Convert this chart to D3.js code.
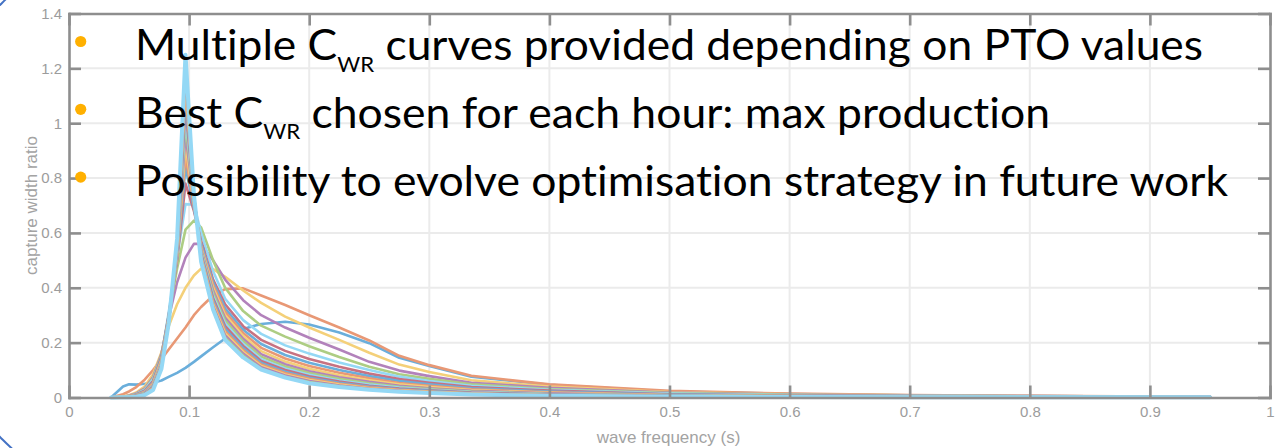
<!DOCTYPE html>
<html>
<head>
<meta charset="utf-8">
<script src="https://cdn.jsdelivr.net/npm/d3@7"></script>
<style>
  html, body { margin: 0; padding: 0; background: #fff; overflow: hidden; }
  svg { display: block; }
</style>
</head>
<body>
<svg id="chart" width="1276" height="448"></svg>
<script>
// Wave frequency samples shared by every capture-width-ratio curve
const freq = [0.035, 0.045, 0.05, 0.056, 0.063, 0.07, 0.077, 0.083, 0.09, 0.097, 0.104, 0.11, 0.12, 0.13, 0.145,
              0.16, 0.18, 0.2, 0.225, 0.25, 0.275, 0.3, 0.335, 0.4, 0.5, 0.6, 0.7, 0.8, 0.95];

// One capture width ratio curve per PTO setting
const cwr01 = [0, 0.04, 0.048, 0.047, 0.05, 0.054, 0.062, 0.075, 0.09, 0.108, 0.13, 0.15, 0.183, 0.215, 0.25, 0.268, 0.276, 0.266, 0.237, 0.198, 0.145, 0.115, 0.076, 0.046, 0.022, 0.013, 0.008, 0.005, 0.003];
const cwr02 = [0, 0.012, 0.022, 0.038, 0.065, 0.1, 0.14, 0.175, 0.215, 0.255, 0.3, 0.33, 0.372, 0.395, 0.398, 0.372, 0.337, 0.3, 0.255, 0.208, 0.152, 0.118, 0.079, 0.048, 0.024, 0.014, 0.009, 0.006, 0.003];
const cwr03 = [0, 0.004, 0.008, 0.018, 0.04, 0.085, 0.165, 0.26, 0.34, 0.4, 0.445, 0.47, 0.468, 0.44, 0.39, 0.345, 0.295, 0.255, 0.21, 0.163, 0.12, 0.093, 0.063, 0.04, 0.02, 0.012, 0.008, 0.005, 0.003];
const cwr04 = [0, 0.003, 0.007, 0.015, 0.033, 0.075, 0.16, 0.29, 0.42, 0.51, 0.56, 0.56, 0.5, 0.43, 0.355, 0.3, 0.255, 0.218, 0.175, 0.13, 0.098, 0.078, 0.054, 0.035, 0.018, 0.011, 0.007, 0.005, 0.003];
const cwr05 = [0, 0.003, 0.006, 0.013, 0.03, 0.07, 0.155, 0.3, 0.47, 0.612, 0.645, 0.62, 0.5, 0.4, 0.315, 0.262, 0.222, 0.187, 0.148, 0.112, 0.085, 0.068, 0.048, 0.031, 0.016, 0.01, 0.006, 0.004, 0.002];
const cwr06 = [0, 0.002, 0.005, 0.012, 0.028, 0.066, 0.15, 0.31, 0.51, 0.705, 0.703, 0.6, 0.46, 0.36, 0.282, 0.232, 0.19, 0.16, 0.128, 0.1, 0.076, 0.06, 0.043, 0.028, 0.014, 0.009, 0.006, 0.004, 0.002];
const cwr07 = [0, 0.002, 0.005, 0.011, 0.025, 0.06, 0.15, 0.3, 0.5, 0.78, 0.68, 0.57, 0.43, 0.34, 0.26, 0.21, 0.17, 0.14, 0.112, 0.087, 0.067, 0.054, 0.038, 0.025, 0.012, 0.007, 0.005, 0.003, 0.002];
const cwr08 = [0, 0.002, 0.004, 0.01, 0.023, 0.055, 0.145, 0.295, 0.51, 0.84, 0.69, 0.56, 0.42, 0.325, 0.247, 0.195, 0.155, 0.127, 0.1, 0.078, 0.06, 0.048, 0.034, 0.022, 0.011, 0.006, 0.004, 0.003, 0.002];
const cwr09 = [0, 0.002, 0.004, 0.009, 0.021, 0.052, 0.14, 0.29, 0.515, 0.88, 0.7, 0.55, 0.41, 0.312, 0.235, 0.181, 0.142, 0.115, 0.09, 0.07, 0.053, 0.043, 0.03, 0.019, 0.009, 0.005, 0.004, 0.002, 0.002];
const cwr10 = [0, 0.002, 0.004, 0.008, 0.019, 0.049, 0.135, 0.287, 0.52, 0.92, 0.71, 0.545, 0.4, 0.3, 0.224, 0.169, 0.131, 0.105, 0.081, 0.063, 0.048, 0.038, 0.027, 0.017, 0.008, 0.005, 0.003, 0.002, 0.001];
const cwr11 = [0, 0.001, 0.003, 0.008, 0.018, 0.046, 0.13, 0.284, 0.525, 0.96, 0.715, 0.54, 0.39, 0.29, 0.214, 0.158, 0.121, 0.096, 0.074, 0.057, 0.043, 0.034, 0.024, 0.015, 0.007, 0.004, 0.003, 0.002, 0.001];
const cwr12 = [0, 0.001, 0.003, 0.007, 0.016, 0.043, 0.126, 0.281, 0.53, 1.0, 0.72, 0.535, 0.38, 0.28, 0.205, 0.149, 0.113, 0.089, 0.068, 0.052, 0.039, 0.031, 0.022, 0.013, 0.007, 0.004, 0.003, 0.002, 0.001];
const cwr13 = [0, 0.001, 0.003, 0.006, 0.015, 0.041, 0.122, 0.279, 0.535, 1.03, 0.725, 0.53, 0.37, 0.27, 0.196, 0.14, 0.106, 0.083, 0.062, 0.047, 0.036, 0.028, 0.02, 0.012, 0.006, 0.004, 0.002, 0.002, 0.001];
const cwr14 = [0, 0.001, 0.002, 0.006, 0.014, 0.039, 0.119, 0.277, 0.54, 1.06, 0.73, 0.525, 0.362, 0.26, 0.188, 0.133, 0.1, 0.077, 0.058, 0.043, 0.033, 0.026, 0.018, 0.011, 0.005, 0.003, 0.002, 0.001, 0.001];
const cwr15 = [0, 0.001, 0.002, 0.005, 0.013, 0.037, 0.116, 0.275, 0.545, 1.09, 0.732, 0.52, 0.354, 0.25, 0.18, 0.126, 0.094, 0.072, 0.054, 0.04, 0.03, 0.024, 0.016, 0.01, 0.005, 0.003, 0.002, 0.001, 0.001];
const cwr16 = [0, 0.001, 0.002, 0.005, 0.012, 0.035, 0.114, 0.274, 0.55, 1.12, 0.735, 0.515, 0.346, 0.242, 0.173, 0.12, 0.089, 0.068, 0.05, 0.037, 0.028, 0.022, 0.015, 0.009, 0.004, 0.003, 0.002, 0.001, 0.001];
const cwr17 = [0, 0.001, 0.002, 0.004, 0.011, 0.033, 0.112, 0.273, 0.56, 1.15, 0.737, 0.51, 0.339, 0.234, 0.166, 0.115, 0.084, 0.064, 0.047, 0.034, 0.026, 0.02, 0.014, 0.008, 0.004, 0.002, 0.002, 0.001, 0.001];
const cwr18 = [0, 0.001, 0.002, 0.004, 0.01, 0.031, 0.11, 0.272, 0.565, 1.18, 0.739, 0.505, 0.333, 0.226, 0.16, 0.11, 0.08, 0.06, 0.044, 0.032, 0.024, 0.018, 0.013, 0.007, 0.004, 0.002, 0.001, 0.001, 0.001];
const cwr19 = [0, 0.001, 0.002, 0.004, 0.01, 0.029, 0.108, 0.271, 0.57, 1.21, 0.74, 0.5, 0.326, 0.218, 0.153, 0.105, 0.076, 0.056, 0.041, 0.03, 0.022, 0.017, 0.012, 0.007, 0.003, 0.002, 0.001, 0.001, 0.001];
const cwr20 = [0, 0.001, 0.001, 0.003, 0.009, 0.027, 0.105, 0.27, 0.58, 1.25, 0.74, 0.495, 0.32, 0.21, 0.146, 0.102, 0.073, 0.052, 0.038, 0.028, 0.021, 0.016, 0.011, 0.006, 0.003, 0.002, 0.001, 0.001, 0.001];

const seriesValues = [cwr01, cwr02, cwr03, cwr04, cwr05, cwr06, cwr07, cwr08, cwr09, cwr10,
                      cwr11, cwr12, cwr13, cwr14, cwr15, cwr16, cwr17, cwr18, cwr19, cwr20];

// Faded default line colour order
const lineColors = ["#6aaedb", "#e89875", "#f4d079", "#b282bb", "#adcd83", "#94d8f5", "#c77282"];

const xTickValues = [0, 0.1, 0.2, 0.3, 0.4, 0.5, 0.6, 0.7, 0.8, 0.9, 1];
const yTickValues = [0, 0.2, 0.4, 0.6, 0.8, 1, 1.2, 1.4];
const xTickLabels = ["0", "0.1", "0.2", "0.3", "0.4", "0.5", "0.6", "0.7", "0.8", "0.9", "1"];
const yTickLabels = ["0", "0.2", "0.4", "0.6", "0.8", "1", "1.2", "1.4"];

const xLabel = "wave frequency (s)";
const yLabel = "capture width ratio";

// Slide bullet points laid over the plot
const bulletPre  = ["Multiple C", "Best C", "Possibility to evolve optimisation strategy in future work"];
const bulletSub  = ["WR", "WR", ""];
const bulletPost = [" curves provided depending on PTO values", " chosen for each hour: max production", ""];
const bulletWidth = [1068, 915, 1093];

const svg = d3.select("#chart");
const plotLeft = 69, plotRight = 1270, plotTop = 13.5, plotBottom = 397.5;

const x = d3.scaleLinear().domain([0, 1]).range([plotLeft, plotRight]);
const y = d3.scaleLinear().domain([0, 1.4]).range([plotBottom, plotTop]);

// Decorative slide circle peeking in at the left edge
const deco = svg.append("defs");
deco.append("clipPath").attr("id", "edgeClip")
  .selectAll("rect")
  .data([[0, 0, 9, 6], [0, 424, 16, 24]])
  .join("rect")
  .attr("x", d => d[0]).attr("y", d => d[1]).attr("width", d => d[2]).attr("height", d => d[3]);
svg.append("circle")
  .attr("cx", 221).attr("cy", 221).attr("r", 309)
  .attr("fill", "none").attr("stroke", "#4472c4").attr("stroke-width", 2)
  .attr("clip-path", "url(#edgeClip)");

// Grid
const grid = svg.append("g").attr("class", "grid");
grid.selectAll("line.gx")
  .data(xTickValues.slice(1, -1))
  .join("line")
  .attr("x1", d => x(d)).attr("x2", d => x(d))
  .attr("y1", plotTop).attr("y2", plotBottom)
  .attr("stroke", "#ebebeb").attr("stroke-width", 2);
grid.selectAll("line.gy")
  .data(yTickValues.slice(1, -1))
  .join("line")
  .attr("x1", plotLeft).attr("x2", plotRight)
  .attr("y1", d => y(d)).attr("y2", d => y(d))
  .attr("stroke", "#ebebeb").attr("stroke-width", 2);

// Curves
const line = d3.line()
  .x((d, i) => x(freq[i]))
  .y(d => y(d));

const curves = svg.append("g").attr("class", "curves")
  .attr("fill", "none").attr("stroke-linejoin", "round").attr("stroke-linecap", "round");
seriesValues.forEach((vals, k) => {
  curves.append("path")
    .attr("d", line(vals))
    .attr("stroke", lineColors[k % lineColors.length])
    .attr("stroke-width", k === seriesValues.length - 1 ? 4 : 2.6);
});

// Axes (box with inward ticks)
const axisColor = "#8e8e8e";
const labelColor = "#9c9c9c";
const axisFont = "'Liberation Sans', Arial, sans-serif";
function styleAxis(g) {
  g.select(".domain").attr("stroke", axisColor).attr("stroke-width", 2.6);
  g.selectAll(".tick line").attr("stroke", axisColor).attr("stroke-width", 2.6);
  g.selectAll(".tick text").attr("fill", labelColor)
    .style("font-family", axisFont).style("font-size", "15px");
}

svg.append("g")
  .attr("transform", `translate(0,${plotBottom})`)
  .call(d3.axisBottom(x).tickValues(xTickValues).tickFormat((d, i) => xTickLabels[i])
        .tickSizeInner(-12).tickSizeOuter(0).tickPadding(9))
  .call(styleAxis);

svg.append("g")
  .attr("transform", `translate(${plotLeft},0)`)
  .call(d3.axisLeft(y).tickValues(yTickValues).tickFormat((d, i) => yTickLabels[i])
        .tickSizeInner(-12).tickSizeOuter(0).tickPadding(7))
  .call(styleAxis);

svg.append("g")
  .attr("transform", `translate(0,${plotTop})`)
  .call(d3.axisTop(x).tickValues(xTickValues).tickFormat("")
        .tickSizeInner(-12).tickSizeOuter(0))
  .call(styleAxis);

svg.append("g")
  .attr("transform", `translate(${plotRight},0)`)
  .call(d3.axisRight(y).tickValues(yTickValues).tickFormat("")
        .tickSizeInner(-12).tickSizeOuter(0))
  .call(styleAxis);

svg.selectAll(".domain").attr("stroke-linecap", "square");

// Axis titles
svg.append("text")
  .attr("x", 668.5).attr("y", 443)
  .attr("text-anchor", "middle")
  .attr("fill", "#a3a3a3")
  .style("font-family", axisFont).style("font-size", "17px")
  .text(xLabel);

svg.append("text")
  .attr("transform", `translate(37,${(plotTop + plotBottom) / 2}) rotate(-90)`)
  .attr("text-anchor", "middle")
  .attr("fill", "#a3a3a3")
  .style("font-family", axisFont).style("font-size", "17px")
  .text(yLabel);

// Bullet text
const bullets = svg.append("g").attr("class", "bullets");
const baseline0 = 60, lineGap = 67.8;
bulletPre.forEach((pre, i) => {
  const by = baseline0 + i * lineGap;
  bullets.append("circle")
    .attr("cx", 80.7).attr("cy", by - 18.5).attr("r", 5.6)
    .attr("fill", "#ffb000");
  const t = bullets.append("text")
    .attr("x", 135).attr("y", by)
    .attr("fill", "#000")
    .attr("textLength", bulletWidth[i])
    .attr("lengthAdjust", "spacingAndGlyphs")
    .style("font-family", "Lato, 'Open Sans', sans-serif")
    .style("font-variant-ligatures", "none")
    .style("font-size", "42px");
  t.append("tspan").text(pre);
  if (bulletSub[i]) {
    t.append("tspan").attr("dy", 11.5).style("font-size", "21px").text(bulletSub[i]);
    t.append("tspan").attr("dy", -11.5).text(bulletPost[i]);
  }
});
</script>
</body>
</html>
